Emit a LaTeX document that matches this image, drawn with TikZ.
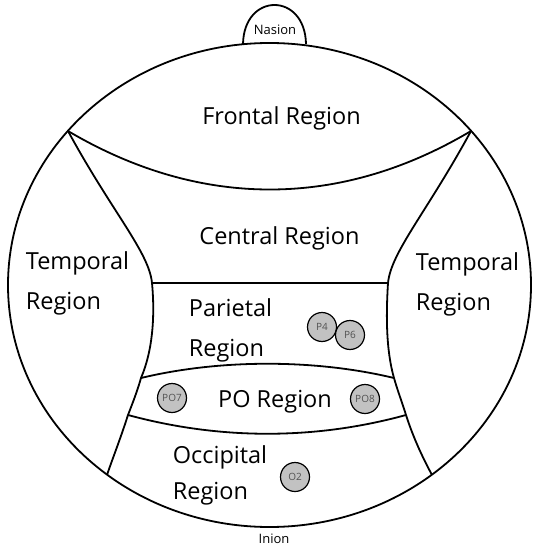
\documentclass[tikz,border=0pt]{standalone}
\usepackage{fontspec}
\setmainfont{Open Sans}
\begin{document}
\begin{tikzpicture}[x=1pt,y=-1pt,line width=1.8pt,
  region/.style={font=\fontsize{23.5}{40}\selectfont,align=left,inner sep=0pt},
  elec/.style={circle,draw=black,line width=1.2pt,fill=black!24,minimum size=29pt,inner sep=0pt,text=black!68,font=\fontsize{10}{11}\selectfont},
  landmark/.style={font=\fontsize{13}{14}\selectfont,inner sep=0pt}]
\useasboundingbox (0,0) rectangle (532,548);

\coordinate (A) at (68,131);
\coordinate (B) at (471,131);
\coordinate (C) at (152,283);
\coordinate (D) at (388,283);
\coordinate (E) at (141,378);
\coordinate (F) at (394,378);
\coordinate (G) at (128,415);
\coordinate (H) at (406,415);
\coordinate (I) at (107,475);
\coordinate (J) at (432,475);
\coordinate (N1) at (243,44);
\coordinate (N2) at (306,44);

\draw (269.5,285) ellipse [x radius=261.5, y radius=242];
\draw (N1) .. controls (244,-8) and (305,-8) .. (N2);

\draw (A) .. controls (200,209) and (340,209) .. (B);
\draw (A) .. controls (112,212) and (149,252) .. (C) .. controls (155,315) and (153,350) .. (E)
  .. controls (137,392) and (133,402) .. (G) .. controls (120,440) and (112,460) .. (I);
\draw (B) .. controls (427,212) and (391,252) .. (D) .. controls (386,315) and (386,350) .. (F)
  .. controls (398,392) and (402,402) .. (H) .. controls (414,440) and (424,460) .. (J);
\draw (C) -- (D);
\draw (E) .. controls (220,359) and (315,359) .. (F);
\draw (G) .. controls (220,440) and (315,440) .. (H);

\node[landmark] (nasion) at (275,30) {Nasion};
\node[landmark] (inion) at (274,539) {Inion};

\node[region] (frontal) at (281.5,118) {Frontal Region};
\node[region] (central) at (279.5,238) {Central Region};
\node[region,anchor=west] (ltemporal) at (25,283) {Temporal\\Region};
\node[region,anchor=west] (rtemporal) at (415,284) {Temporal\\Region};
\node[region,anchor=west] (parietal) at (188,330) {Parietal\\Region};
\node[region] (po) at (275,402) {PO Region};
\node[region,anchor=west] (occipital) at (172,475) {Occipital\\[-4pt]Region};

\node[elec] (p4) at (322,327) {P4};
\node[elec] (p6) at (350,335) {P6};
\node[elec] (po7) at (172,398) {PO7};
\node[elec] (po8) at (365,399) {PO8};
\node[elec] (o2) at (295,477) {O2};
\end{tikzpicture}
\end{document}
